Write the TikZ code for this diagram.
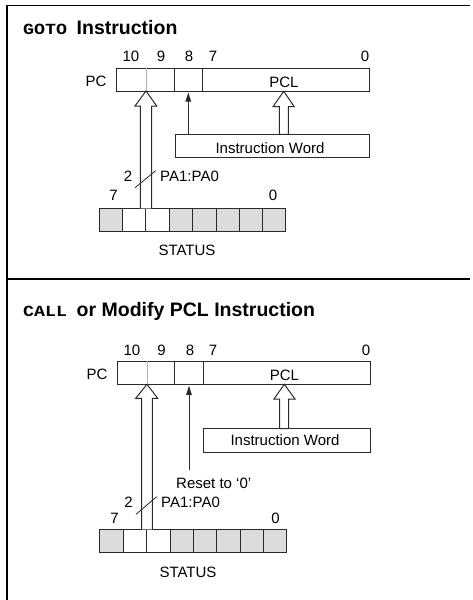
\documentclass[tikz,border=0pt]{standalone}
\usepackage{fontspec}
\usepackage{graphicx}
\setmainfont{Liberation Sans}
\newfontfamily\monof{Liberation Mono}
\usetikzlibrary{arrows.meta}
\definecolor{ln}{HTML}{2A2A2A}
\definecolor{cellgray}{HTML}{DCDCDC}
\tikzset{
  lbl/.style={inner sep=0pt, anchor=base, text=black, font=\fontsize{15}{17}\selectfont},
  lblw/.style={lbl, anchor=base west},
  ttl/.style={inner sep=0pt, anchor=base west, font=\fontsize{19.5}{22}\selectfont\bfseries},
  ttlm/.style={inner sep=0pt, anchor=base west, font=\fontsize{15.5}{22}\selectfont\monof\bfseries},
  reg/.style={draw=ln, line width=1pt},
  frame/.style={draw=black, line width=1.8pt},
  hollow/.style={draw=ln, line width=1pt, fill=white, line join=miter},
  thinarr/.style={draw=ln, line width=1pt, -{Triangle[length=9pt,width=5.5pt]}},
}
\begin{document}
\begin{tikzpicture}[x=1pt, y=-1pt]
\useasboundingbox (0,0) rectangle (472,600);
% frame
\coordinate (ftl) at (6.7,5.5);
\coordinate (ftr) at (470,5.5);
\coordinate (fbl) at (6.7,602);
\coordinate (dl) at (6.7,279);
\coordinate (dr) at (470,279);
\draw[frame] (fbl) -- (ftl) -- (ftr);
\draw[frame] (dl) -- (dr);

% ================= TOP PANEL =================
\node[ttlm] (t1a) at (23,34) {\scalebox{1.18}[1]{GOTO}};
\node[ttl] (t1b) at (76.5,34) {Instruction};

% PC register
\node[reg, rectangle, minimum width=253.4pt, minimum height=22.7pt, inner sep=0pt] (pc1) at (243,79.65) {};
\draw[gray!60, line width=0.6pt] (146,68.3) -- (146,91);
\draw[reg] (174,68.3) -- (174,91);
\draw[reg] (202.3,68.3) -- (202.3,91);
\node[lbl] (pclab1) at (96,86) {PC};
\node[lbl] (pcl1) at (284,87) {PCL};
\node[lbl] (b10a) at (131,61.7) {10};
\node[lbl] (b9a) at (161,61.7) {9};
\node[lbl] (b8a) at (189,61.7) {8};
\node[lbl] (b7a) at (213,61.7) {7};
\node[lbl] (b0a) at (365,61.7) {0};

% Instruction word
\node[reg, rectangle, minimum width=194pt, minimum height=22.7pt, inner sep=0pt] (iw1) at (272.7,145.65) {};
\node[lbl] (iwt1) at (270,153) {Instruction Word};

% STATUS register
\fill[cellgray] (99,208.3) rectangle (285.7,231);
\fill[white] (122.3,208.3) rectangle (169,231);
\node[reg, rectangle, minimum width=186.7pt, minimum height=22.7pt, inner sep=0pt] (st1) at (192.35,219.65) {};
\foreach \x in {122.3,145.7,169,192.7,216,239.3,262.7}
  \draw[reg] (\x,208.3) -- (\x,231);
\node[lbl] (s7a) at (113.5,200) {7};
\node[lbl] (s0a) at (273,200) {0};
\node[lbl] (stt1) at (187,255) {STATUS};

% hollow arrow STATUS -> PC
\draw[hollow] (140.3,208.3) -- (140.3,106) -- (135,106) -- (146,91) -- (156.7,106) -- (151.7,106) -- (151.7,208.3);
% PCL hollow arrow
\draw[hollow] (279.3,134.3) -- (279.3,106.7) -- (273,106.7) -- (283.7,91.3) -- (294.3,106.7) -- (288.3,106.7) -- (288.3,134.3) -- cycle;
% thin arrow
\coordinate (a1s) at (188.3,134.3);
\coordinate (a1e) at (188.3,92.5);
\draw[thinarr] (a1s) -- (a1e);
% bus slash
\draw[ln, line width=0.8pt] (135,187.7) -- (155.7,170.7);
\node[lbl] (two1) at (128,181) {2};
\node[lblw] (pa1) at (160,181) {PA1:PA0};

% ================= BOTTOM PANEL =================
\node[ttlm] (t2a) at (23,316.7) {\scalebox{1.18}[1]{CALL}};
\node[ttl] (t2b) at (76.5,316.7) {or Modify PCL Instruction};

\node[reg, rectangle, minimum width=253.4pt, minimum height=23.3pt, inner sep=0pt] (pc2) at (244,372.65) {};
\draw[gray!60, line width=0.6pt] (147,361) -- (147,384.3);
\draw[reg] (174.7,361) -- (174.7,384.3);
\draw[reg] (203,361) -- (203,384.3);
\node[lbl] (pclab2) at (97,379.5) {PC};
\node[lbl] (pcl2) at (284.5,380) {PCL};
\node[lbl] (b10b) at (132,355) {10};
\node[lbl] (b9b) at (161.5,355) {9};
\node[lbl] (b8b) at (190,355) {8};
\node[lbl] (b7b) at (213,355) {7};
\node[lbl] (b0b) at (366,355) {0};

\node[reg, rectangle, minimum width=167pt, minimum height=23.3pt, inner sep=0pt] (iw2) at (287.2,440.35) {};
\node[lbl] (iwt2) at (285,445) {Instruction Word};

\fill[cellgray] (99.3,529.3) rectangle (286.7,552.7);
\fill[white] (123.3,529.3) rectangle (170,552.7);
\node[reg, rectangle, minimum width=187.4pt, minimum height=23.4pt, inner sep=0pt] (st2) at (193,541) {};
\foreach \x in {123.3,146.7,170,193.3,216.7,240,263.3}
  \draw[reg] (\x,529.3) -- (\x,552.7);
\node[lbl] (s7b) at (114.5,523) {7};
\node[lbl] (s0b) at (275.5,523) {0};
\node[lbl] (stt2) at (188,577) {STATUS};

\draw[hollow] (141.7,529.3) -- (141.7,398.3) -- (135.7,398.3) -- (147,384.3) -- (157.7,398.3) -- (152.3,398.3) -- (152.3,529.3);
\draw[hollow] (279.7,428.7) -- (279.7,399) -- (274,399) -- (284.3,384.3) -- (295,399) -- (288.7,399) -- (288.7,428.7) -- cycle;
\coordinate (a2s) at (189,470);
\coordinate (a2e) at (189,385.8);
\draw[thinarr] (a2s) -- (a2e);
\node[lbl] (rst) at (213.7,488) {Reset to ‘0’};
\draw[ln, line width=0.8pt] (136,514.3) -- (156.7,496.7);
\node[lbl] (two2) at (128.5,507) {2};
\node[lblw] (pa2) at (161,507) {PA1:PA0};
\end{tikzpicture}
\end{document}
